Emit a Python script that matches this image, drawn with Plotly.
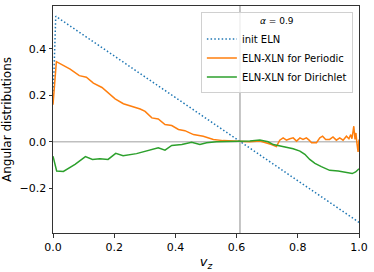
import plotly.graph_objects as go

# ---- data ----
init_x = [0.0, 0.009, 1.0]
init_y = [0.17, 0.541, -0.347]

per_x = [0.0, 0.011, 0.056, 0.086, 0.109, 0.132, 0.16, 0.203, 0.23, 0.252, 0.285, 0.301,
         0.323, 0.344, 0.366, 0.388, 0.41, 0.431, 0.459, 0.491, 0.524, 0.556, 0.6, 0.643,
         0.676, 0.698, 0.714, 0.73, 0.741, 0.752, 0.763, 0.774, 0.785, 0.796, 0.807, 0.817,
         0.828, 0.837, 0.845, 0.861, 0.872, 0.881, 0.891, 0.904, 0.915, 0.926, 0.937, 0.948,
         0.959, 0.967, 0.973, 0.977, 0.983, 0.987, 0.99, 0.993, 0.997, 1.0]
per_y = [0.16, 0.345, 0.313, 0.285, 0.278, 0.253, 0.234, 0.185, 0.164, 0.155, 0.141, 0.131,
         0.103, 0.098, 0.074, 0.07, 0.053, 0.048, 0.031, 0.024, 0.01, 0.005, 0.003, 0.0,
         0.003, -0.004, -0.012, -0.021, 0.007, 0.017, 0.007, 0.013, 0.017, 0.003, 0.017, 0.01,
         0.017, 0.007, -0.004, -0.004, 0.017, 0.024, 0.01, 0.01, 0.021, 0.007, 0.017, 0.007,
         0.024, 0.013, 0.031, 0.013, 0.067, 0.01, 0.038, -0.004, -0.044, 0.01]

dir_x = [0.0, 0.012, 0.034, 0.072, 0.106, 0.129, 0.153, 0.18, 0.205, 0.229, 0.273, 0.311,
         0.344, 0.366, 0.388, 0.421, 0.453, 0.48, 0.502, 0.534, 0.578, 0.61, 0.643, 0.676,
         0.687, 0.703, 0.72, 0.747, 0.763, 0.785, 0.807, 0.823, 0.839, 0.856, 0.877, 0.904,
         0.932, 0.953, 0.978, 0.989, 1.0]
dir_y = [-0.062, -0.126, -0.128, -0.097, -0.064, -0.076, -0.073, -0.076, -0.05, -0.06, -0.051, -0.037,
         -0.026, -0.036, -0.016, -0.012, -0.002, -0.012, -0.004, 0.0, 0.0, 0.0, 0.003, 0.008,
         0.006, 0.0, -0.012, -0.019, -0.026, -0.03, -0.04, -0.054, -0.076, -0.093, -0.107, -0.123,
         -0.126, -0.13, -0.137, -0.13, -0.116]

v_line = 0.611
x_ticks = [0.0, 0.2, 0.4, 0.6, 0.8, 1.0]
y_ticks = [-0.2, 0.0, 0.2, 0.4]

fig = go.Figure()
fig.add_hline(y=0, line=dict(color="#bfbfbf", width=1.5), layer="below")
fig.add_vline(x=v_line, line=dict(color="#bfbfbf", width=1.8), layer="below")

fig.add_trace(go.Scatter(x=init_x, y=init_y, mode="lines", name="init ELN",
                         line=dict(color="#1f77b4", width=1.5, dash="1.5px,2.2px")))
fig.add_trace(go.Scatter(x=per_x, y=per_y, mode="lines", name="ELN-XLN for Periodic",
                         line=dict(color="#ff7f0e", width=1.5)))
fig.add_trace(go.Scatter(x=dir_x, y=dir_y, mode="lines", name="ELN-XLN for Dirichlet",
                         line=dict(color="#2ca02c", width=1.5)))

font = dict(family="DejaVu Sans", size=11, color="black")
fig.update_layout(
    width=374, height=272,
    margin=dict(l=52, r=15, t=5, b=38),
    paper_bgcolor="white", plot_bgcolor="white",
    font=font,
    showlegend=True,
    legend=dict(
        x=0.98, y=0.975, xanchor="right", yanchor="top",
        bgcolor="rgba(255,255,255,0.8)", bordercolor="#d0d0d0", borderwidth=1,
        font=dict(family="DejaVu Sans", size=10, color="black"),
        title=dict(text="<i>α</i> = 0.9", side="top center",
                   font=dict(family="DejaVu Sans", size=9, color="black")),
        itemwidth=30, tracegroupgap=0,
    ),
)
fig.update_xaxes(range=[0, 1], tickvals=x_ticks, tickformat=".1f",
                 showline=True, linecolor="#333333", linewidth=1, mirror=True,
                 ticks="outside", ticklen=3.5, tickcolor="#333333",
                 showgrid=False, zeroline=False,
                 title=dict(text="<i>v<sub>z</sub></i>", standoff=4,
                            font=dict(family="DejaVu Sans", size=13)))
fig.update_yaxes(range=[-0.393, 0.585], tickvals=y_ticks, tickformat=".1f",
                 showline=True, linecolor="#333333", linewidth=1, mirror=True,
                 ticks="outside", ticklen=3.5, tickcolor="#333333",
                 showgrid=False, zeroline=False,
                 title=dict(text="Angular distributions", standoff=6,
                            font=dict(family="DejaVu Sans", size=12)))

fig.write_html("out.html", config={"displayModeBar": False},
               post_script="document.body.style.margin='0';")
